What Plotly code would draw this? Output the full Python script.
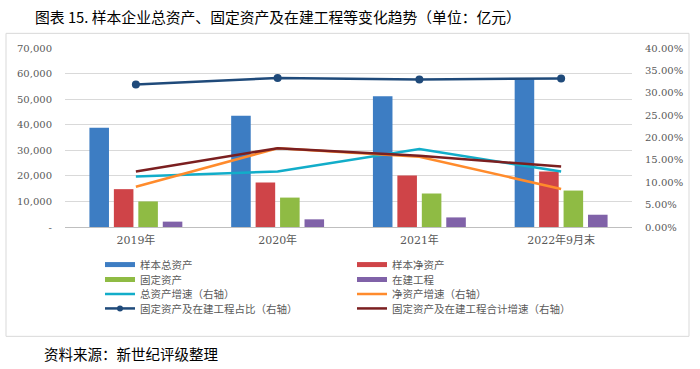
import plotly.graph_objects as go

categories = ["2019年", "2020年", "2021年", "2022年9月末"]
total_assets = [38800, 43500, 51150, 57800]
net_assets = [14800, 17400, 20100, 21700]
fixed_assets = [10000, 11500, 13100, 14250]
cip = [2100, 3000, 3750, 4800]
total_growth = [0.113, 0.124, 0.174, 0.124]
net_growth = [0.090, 0.176, 0.157, 0.085]
fixed_cip_share = [0.3185, 0.333, 0.3295, 0.332]
fixed_cip_growth = [0.124, 0.176, 0.159, 0.135]

left_ticks = [0, 10000, 20000, 30000, 40000, 50000, 60000, 70000]
left_ticktext = ["-", "10,000", "20,000", "30,000", "40,000", "50,000", "60,000", "70,000"]

C_BLUE = "#3D7DC3"
C_RED = "#CF4448"
C_GREEN = "#8FBB44"
C_PURPLE = "#8062A8"
C_CYAN = "#12ADC9"
C_ORANGE = "#FF8B2C"
C_NAVY = "#1F4A7A"
C_DRED = "#7B1F20"

fig = go.Figure()

for name, vals, col in [("样本总资产", total_assets, C_BLUE), ("样本净资产", net_assets, C_RED),
                        ("固定资产", fixed_assets, C_GREEN), ("在建工程", cip, C_PURPLE)]:
    fig.add_trace(go.Bar(x=categories, y=vals, name=name, marker=dict(color=col, line=dict(width=0)),
                         showlegend=False, yaxis="y"))

fig.add_trace(go.Scatter(x=categories, y=total_growth, mode="lines", line=dict(color=C_CYAN, width=2.5),
                         yaxis="y2", showlegend=False))
fig.add_trace(go.Scatter(x=categories, y=net_growth, mode="lines", line=dict(color=C_ORANGE, width=2.5),
                         yaxis="y2", showlegend=False))
fig.add_trace(go.Scatter(x=categories, y=fixed_cip_share, mode="lines+markers",
                         line=dict(color=C_NAVY, width=2.5), marker=dict(size=8, color=C_NAVY),
                         yaxis="y2", showlegend=False))
fig.add_trace(go.Scatter(x=categories, y=fixed_cip_growth, mode="lines", line=dict(color=C_DRED, width=2.5),
                         yaxis="y2", showlegend=False))

# legend entries (two per row, four rows)
legend_items = [
    ("样本总资产", C_BLUE, 5, False, "legend"),
    ("样本净资产", C_RED, 5, False, "legend"),
    ("固定资产", C_GREEN, 5, False, "legend2"),
    ("在建工程", C_PURPLE, 5, False, "legend2"),
    ("总资产增速（右轴）", C_CYAN, 2.5, False, "legend3"),
    ("净资产增速（右轴）", C_ORANGE, 2.5, False, "legend3"),
    ("固定资产及在建工程占比（右轴）", C_NAVY, 2.5, True, "legend4"),
    ("固定资产及在建工程合计增速（右轴）", C_DRED, 2.5, False, "legend4"),
]
for name, col, w, mk, lg in legend_items:
    fig.add_trace(go.Scatter(x=[None], y=[None], name=name,
                             mode="lines+markers" if mk else "lines",
                             line=dict(color=col, width=w),
                             marker=dict(size=6, color=col),
                             yaxis="y2", showlegend=True, legend=lg))

L, R, T, B = 65, 68, 47.7, 141.7
W, H = 700, 369
pw = W - L - R
ph = H - T - B

def px(x):
    return (x - L) / pw

def py(y):
    return (H - B - y) / ph

def leg(row_y):
    return dict(orientation="h", x=px(100), y=py(row_y), xanchor="left", yanchor="middle",
                entrywidth=207, entrywidthmode="pixels", traceorder="normal",
                font=dict(family="Noto Sans CJK SC", size=10.5, color="#595959"),
                bgcolor="rgba(0,0,0,0)", tracegroupgap=0)

fig.update_layout(
    width=W, height=H,
    margin=dict(l=L, r=R, t=T, b=B, pad=0),
    paper_bgcolor="white", plot_bgcolor="white",
    barmode="group", bargap=0.31, bargroupgap=0.2,
    font=dict(family="DejaVu Serif, serif", size=10, color="#595959"),
    xaxis=dict(type="category", showgrid=False, showline=False, ticks="", ticklabelstandoff=5,
               tickfont=dict(family="DejaVu Serif, Noto Sans CJK SC", size=11, color="#595959")),
    yaxis=dict(range=[0, 70000], tickvals=left_ticks, ticktext=left_ticktext,
               showgrid=True, gridcolor="#D9D9D9", gridwidth=1, zeroline=True,
               zerolinecolor="#BFBFBF", zerolinewidth=1, showline=False, ticks="",
               ticklabelstandoff=12,
               tickfont=dict(family="DejaVu Serif", size=10, color="#595959")),
    yaxis2=dict(range=[0, 0.40], dtick=0.05, tickformat=".2%", overlaying="y", side="right",
                showgrid=False, zeroline=False, showline=False, ticks="", ticklabelstandoff=12,
                tickfont=dict(family="DejaVu Serif", size=10, color="#595959")),
    legend=leg(265),
    legend2=leg(280),
    legend3=leg(294.5),
    legend4=leg(309),
    showlegend=True,
)

fig.add_shape(type="rect", xref="paper", yref="paper",
              x0=px(6), x1=px(689), y0=py(337), y1=py(33),
              line=dict(color="#D9D9D9", width=1), fillcolor="rgba(0,0,0,0)", layer="below")

fig.add_annotation(text="图表 15. 样本企业总资产、固定资产及在建工程等变化趋势（单位：亿元）",
                   xref="paper", yref="paper", x=px(33), y=py(16), xanchor="left", yanchor="middle",
                   showarrow=False, font=dict(family="Noto Sans CJK SC", size=14.8, color="#000000"))
fig.add_annotation(text="资料来源：新世纪评级整理",
                   xref="paper", yref="paper", x=px(42), y=py(354), xanchor="left", yanchor="middle",
                   showarrow=False, font=dict(family="Noto Sans CJK SC", size=14.5, color="#000000"))

fig.write_html("out.html", config={"displayModeBar": False},
               post_script="document.body.style.margin='0px';")
